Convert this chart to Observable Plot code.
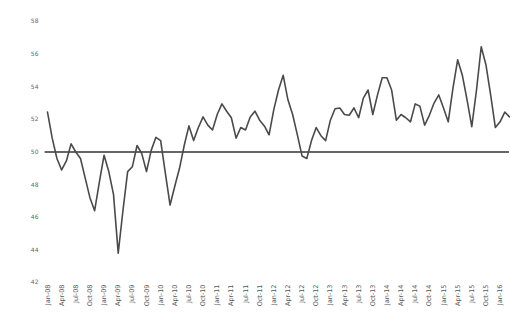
<!DOCTYPE html>
<html>
<head>
<meta charset="utf-8">
<script src="https://cdn.jsdelivr.net/npm/d3@7"></script>
<script src="https://cdn.jsdelivr.net/npm/@observablehq/plot@0.6"></script>
<style>
  html, body { margin: 0; padding: 0; background: #fff; }
  #chart svg { display: block; }
</style>
</head>
<body>
<div id="chart"></div>
<script>
const values = [
  52.45, 50.85, 49.6, 48.9, 49.45, 50.5, 50.0, 49.6, 48.4, 47.2,
  46.4, 48.15, 49.8, 48.8, 47.4, 43.8, 46.4, 48.8, 49.1, 50.4,
  49.9, 48.8, 50.1, 50.9, 50.7, 48.7, 46.75, 47.9, 49.0, 50.4,
  51.6, 50.7, 51.5, 52.15, 51.65, 51.35, 52.3, 52.95, 52.5, 52.1,
  50.85, 51.5, 51.35, 52.15, 52.5, 51.95, 51.6, 51.05, 52.6, 53.8,
  54.7, 53.2, 52.3, 51.05, 49.75, 49.6, 50.7, 51.5, 51.0, 50.7,
  51.95, 52.65, 52.7, 52.3, 52.25, 52.7, 52.1, 53.3, 53.8, 52.3,
  53.5, 54.55, 54.55, 53.8, 51.95, 52.3, 52.1, 51.85, 52.95, 52.8,
  51.65, 52.25, 53.0, 53.5, 52.7, 51.85, 53.9, 55.65, 54.7, 53.2,
  51.55, 53.8, 56.45, 55.35, 53.5, 51.5, 51.85, 52.45, 52.15
];
const tickLabels = [
  "Jan-08","Apr-08","Jul-08","Oct-08","Jan-09","Apr-09","Jul-09","Oct-09",
  "Jan-10","Apr-10","Jul-10","Oct-10","Jan-11","Apr-11","Jul-11","Oct-11",
  "Jan-12","Apr-12","Jul-12","Oct-12","Jan-13","Apr-13","Jul-13","Oct-13",
  "Jan-14","Apr-14","Jul-14","Oct-14","Jan-15","Apr-15","Jul-15","Oct-15",
  "Jan-16"
];
const yTicks = [42, 44, 46, 48, 50, 52, 54, 56, 58];
const referenceValue = [50];

const data = values.map((v, i) => ({i, v}));
const tickIdx = tickLabels.map((_, k) => k * 3);

const chart = Plot.plot({
  width: 510,
  height: 319,
  marginLeft: 47,
  marginRight: 1,
  marginTop: 21,
  marginBottom: 37,
  style: {fontFamily: "DejaVu Sans, sans-serif", background: "#fff"},
  x: {type: "linear", domain: [0, values.length - 1]},
  y: {domain: [42, 58]},
  marks: [
    Plot.axisY({ticks: yTicks, tickSize: 0, tickPadding: 9, fontSize: 6, fill: "#666", label: null}),
    Plot.axisX({ticks: tickIdx, tickFormat: d => tickLabels[d / 3], tickRotate: -90, tickSize: 0, tickPadding: 2, fontSize: 6.5, fill: "#555", label: null}),
    Plot.ruleY(referenceValue, {stroke: "#333", strokeWidth: 1.6, x1: -0.5, x2: values.length - 1}),
    Plot.line(data, {x: "i", y: "v", stroke: "#4a4a4a", strokeWidth: 1.6, curve: "linear"})
  ]
});
document.getElementById("chart").appendChild(chart);
</script>
</body>
</html>
